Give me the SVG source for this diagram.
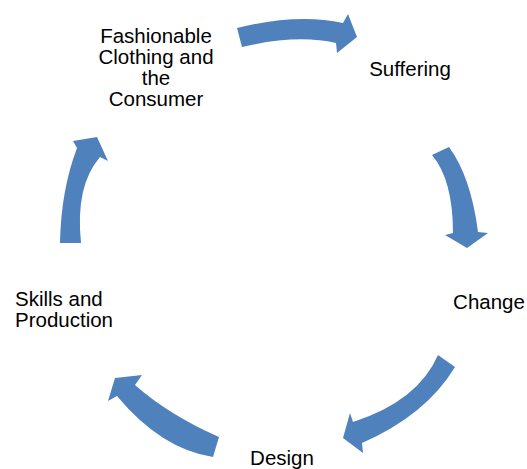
<svg xmlns="http://www.w3.org/2000/svg" width="527" height="469" viewBox="0 0 527 469">
<style>
.arr{fill:#4F81BD;stroke:none}
.lbl{font-family:"Liberation Sans",Arial,sans-serif;font-size:20.5px;fill:#000}
.mid{text-anchor:middle}
</style>
<rect width="527" height="469" fill="#fff"/>
<g id="connectors">
<path class="arr" d="M237,28 Q297,13 343,23 L348,14 L357,37 L337,53 L336,43 Q297,34 242,47 Z"/>
<path class="arr" d="M432,155 Q453,180 453,233 L445,235 L467,248 L488,233 L478,232 Q471,177 449,147 Z"/>
<path class="arr" d="M438,355 Q418,401 353,422 L350,413 L343,438 L363,453 L362,443 Q426,415 455,367 Z"/>
<path class="arr" d="M219,437 Q169,415 135,385 L142,375 L115,378 L108,401 L117,396 Q161,449 213,457 Z"/>
<path class="arr" d="M60,243 Q61,190 77,148 L73,141 L97,137 L108,161 L100,157 Q75,186 81,243 Z"/>
</g>
<g id="node-fashionable">
<text class="lbl mid" x="156" y="43">Fashionable</text>
<text class="lbl mid" x="156" y="64">Clothing and</text>
<text class="lbl mid" x="156" y="85">the</text>
<text class="lbl mid" x="156" y="106">Consumer</text>
</g>
<g id="node-suffering">
<text class="lbl mid" x="410" y="76">Suffering</text>
</g>
<g id="node-change">
<text class="lbl mid" x="489" y="309">Change</text>
</g>
<g id="node-design">
<text class="lbl mid" x="282" y="465">Design</text>
</g>
<g id="node-skills">
<text class="lbl" x="15" y="306">Skills and</text>
<text class="lbl" x="15" y="327">Production</text>
</g>
</svg>
